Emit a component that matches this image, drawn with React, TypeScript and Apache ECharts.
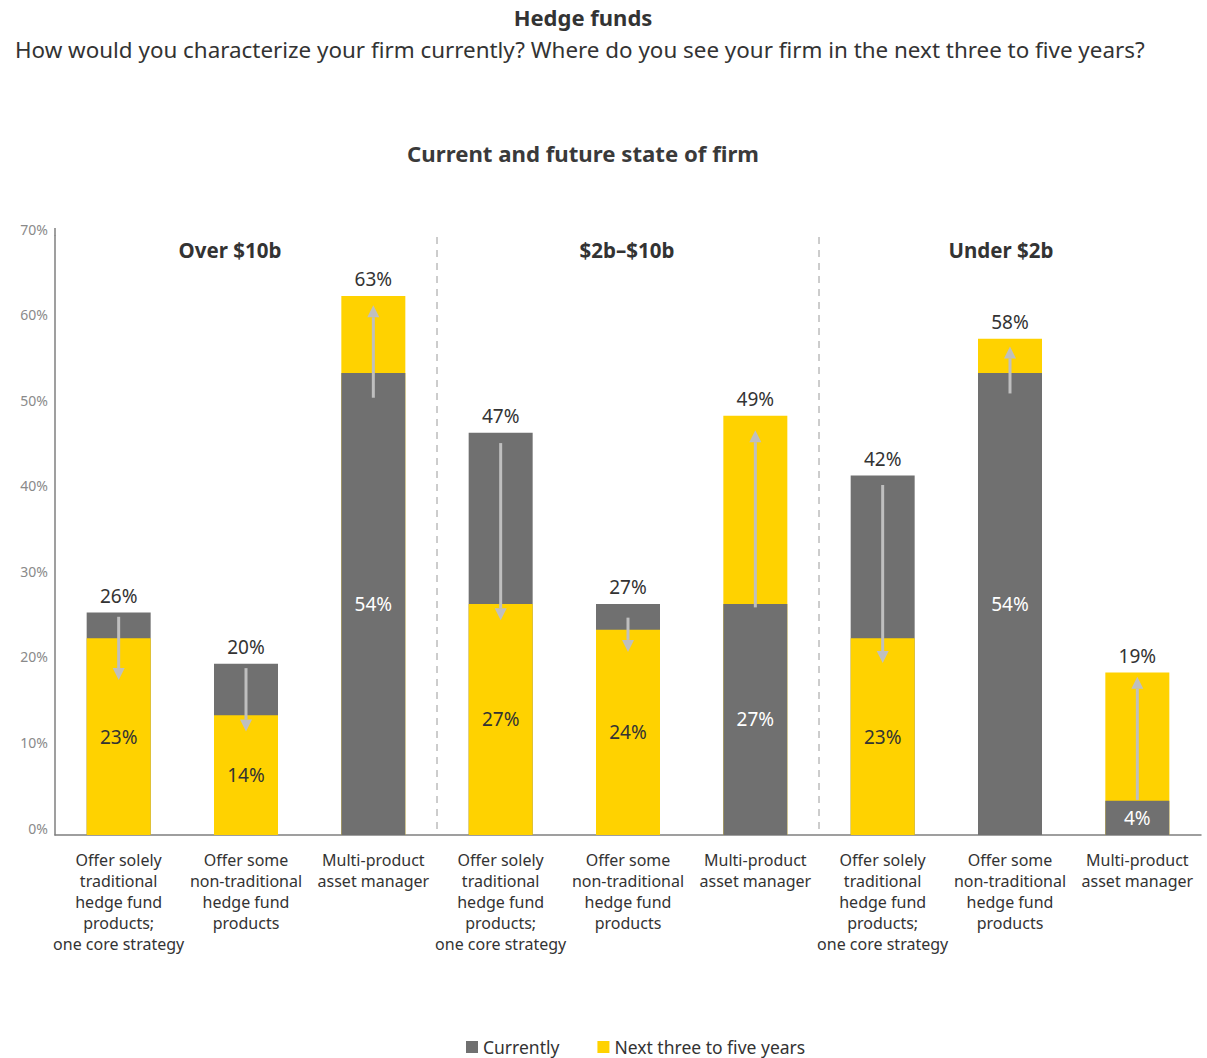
import React, { useEffect, useRef } from "react";
import * as echarts from "echarts";

const categories = [
  "Offer solely\ntraditional\nhedge fund\nproducts;\none core strategy",
  "Offer some\nnon-traditional\nhedge fund\nproducts",
  "Multi-product\nasset manager",
  "Offer solely\ntraditional\nhedge fund\nproducts;\none core strategy",
  "Offer some\nnon-traditional\nhedge fund\nproducts",
  "Multi-product\nasset manager",
  "Offer solely\ntraditional\nhedge fund\nproducts;\none core strategy",
  "Offer some\nnon-traditional\nhedge fund\nproducts",
  "Multi-product\nasset manager",
];
const currently = [26, 20, 54, 47, 27, 27, 42, 54, 4];
const nextYears = [23, 14, 63, 27, 24, 49, 23, 58, 19];
const arrowFrom = [25.5, 19.5, 51.1, 45.8, 25.4, 26.6, 40.9, 51.6, 4.1];
const arrowTo = [18.1, 12.1, 61.9, 25.1, 21.4, 47.3, 20.1, 57.1, 18.5];
const groupNames = ["Over $10b", "$2b\u2013$10b", "Under $2b"];
const groupCenters = [230, 627, 1001];
const separatorAfter = [3, 6];

const GRAY = "#707070";
const YELLOW = "#FFD200";
const TEXT = "#333333";
const FONT = "'Noto Sans', sans-serif";

const GRID_LEFT = 55;
const GRID_WIDTH = 1146;
const GRID_TOP = 236;
const GRID_BOTTOM_Y = 835;

export default function App() {
  const ref = useRef<HTMLDivElement>(null);
  useEffect(() => {
    if (!ref.current) return;
    const chart = echarts.init(ref.current, undefined, { renderer: "svg" });
    const n = categories.length;
    const catW = GRID_WIDTH / n;

    const pick = (arr: number[], cond: (i: number) => boolean) =>
      arr.map((v, i) => (cond(i) ? v : "-"));
    const curBack = pick(currently, (i) => currently[i] >= nextYears[i]);
    const nextBack = pick(nextYears, (i) => nextYears[i] > currently[i]);
    const curFront = pick(currently, (i) => currently[i] < nextYears[i]);
    const nextFront = pick(nextYears, (i) => nextYears[i] <= currently[i]);

    const labelTop = {
      show: true,
      position: "top",
      distance: 7,
      formatter: "{c}%",
      color: TEXT,
      fontSize: 19,
      fontFamily: FONT,
    };
    const labelInside = (color: string) => ({
      show: true,
      position: "inside",
      formatter: "{c}%",
      color,
      fontSize: 19,
      fontFamily: FONT,
    });

    const barBase = {
      type: "bar",
      barWidth: 64,
      barGap: "-100%",
    };

    const graphics: any[] = [];
    separatorAfter.forEach((k) => {
      const x = GRID_LEFT + k * catW;
      graphics.push({
        type: "line",
        shape: { x1: x, y1: 237, x2: x, y2: GRID_BOTTOM_Y },
        style: { stroke: "#9a9a9a", lineWidth: 1, lineDash: [7, 6] },
      });
    });
    groupNames.forEach((g, i) => {
      graphics.push({
        type: "text",
        x: groupCenters[i],
        y: 250,
        style: {
          text: g,
          fill: TEXT,
          font: `bold 20.5px ${FONT}`,
          textAlign: "center",
          textVerticalAlign: "middle",
        },
      });
    });
    graphics.push({
      type: "line",
      shape: { x1: GRID_LEFT, y1: 228, x2: GRID_LEFT, y2: GRID_TOP },
      style: { stroke: "#7f7f7f", lineWidth: 1.5 },
    });

    chart.setOption({
      animation: false,
      textStyle: { fontFamily: FONT },
      title: [
        {
          text: "Hedge funds",
          left: 578,
          top: 1,
          textAlign: "center",
          textStyle: { fontSize: 22, fontWeight: "bold", color: TEXT, fontFamily: FONT },
        },
        {
          text: "How would you characterize your firm currently? Where do you see your firm in the next three to five years?",
          left: 10,
          top: 33,
          textStyle: { fontSize: 22.4, fontWeight: "normal", color: TEXT, fontFamily: FONT },
        },
        {
          text: "Current and future state of firm",
          left: 578,
          top: 137,
          textAlign: "center",
          textStyle: { fontSize: 22.2, fontWeight: "bold", color: "#3a3a3a", fontFamily: FONT },
        },
      ],
      legend: {
        data: [
          { name: "Currently", icon: "rect" },
          { name: "Next three to five years", icon: "rect" },
        ],
        left: 461,
        top: 1033,
        itemWidth: 12,
        itemHeight: 12,
        itemGap: 38,
        textStyle: { fontSize: 17.5, color: TEXT, fontFamily: FONT },
      },
      grid: {
        left: GRID_LEFT,
        top: GRID_TOP,
        width: GRID_WIDTH,
        height: GRID_BOTTOM_Y - GRID_TOP,
        containLabel: false,
      },
      xAxis: {
        type: "category",
        data: categories,
        axisLine: { show: true, lineStyle: { color: "#7f7f7f", width: 1.5 } },
        axisTick: { show: false },
        axisLabel: {
          interval: 0,
          color: TEXT,
          fontSize: 16,
          lineHeight: 21,
          margin: 14,
          fontFamily: FONT,
        },
      },
      yAxis: {
        type: "value",
        min: 0,
        max: 70,
        interval: 10,
        axisLine: { show: true, lineStyle: { color: "#7f7f7f", width: 1.5 } },
        axisTick: { show: false },
        splitLine: { show: false },
        axisLabel: {
          formatter: "{value}%",
          color: "#8a8a8a",
          fontSize: 14,
          margin: 7,
          verticalAlign: "bottom",
          fontFamily: FONT,
        },
      },
      series: [
        { ...barBase, name: "Currently", data: curBack, itemStyle: { color: GRAY }, label: labelTop, z: 2 },
        { ...barBase, name: "Next three to five years", data: nextBack, itemStyle: { color: YELLOW }, label: labelTop, z: 2 },
        { ...barBase, name: "Currently", data: curFront, itemStyle: { color: GRAY }, label: labelInside("#ffffff"), z: 3 },
        { ...barBase, name: "Next three to five years", data: nextFront, itemStyle: { color: YELLOW }, label: labelInside(TEXT), z: 3 },
        {
          type: "custom",
          name: "arrows",
          z: 10,
          data: arrowFrom.map((v, i) => [i, v, arrowTo[i]]),
          encode: { x: 0, y: [1, 2] },
          renderItem: (params: any, api: any) => {
            const x = api.value(0);
            const p0 = api.coord([x, api.value(1)]);
            const p1 = api.coord([x, api.value(2)]);
            const dir = p1[1] > p0[1] ? 1 : -1;
            const headLen = 12;
            const halfW = 6;
            const baseY = p1[1] - dir * headLen;
            return {
              type: "group",
              children: [
                {
                  type: "line",
                  shape: { x1: p0[0], y1: p0[1], x2: p0[0], y2: baseY },
                  style: { stroke: "#bfbfbf", lineWidth: 3 },
                },
                {
                  type: "polygon",
                  shape: {
                    points: [
                      [p1[0] - halfW, baseY],
                      [p1[0] + halfW, baseY],
                      [p1[0], p1[1]],
                    ],
                  },
                  style: { fill: "#bfbfbf" },
                },
              ],
            };
          },
        },
      ],
      graphic: graphics,
    });
    return () => chart.dispose();
  }, []);
  return (
    <div
      ref={ref}
      style={{ position: "fixed", left: 0, top: 0, width: 1207, height: 1058, background: "#ffffff" }}
    />
  );
}
